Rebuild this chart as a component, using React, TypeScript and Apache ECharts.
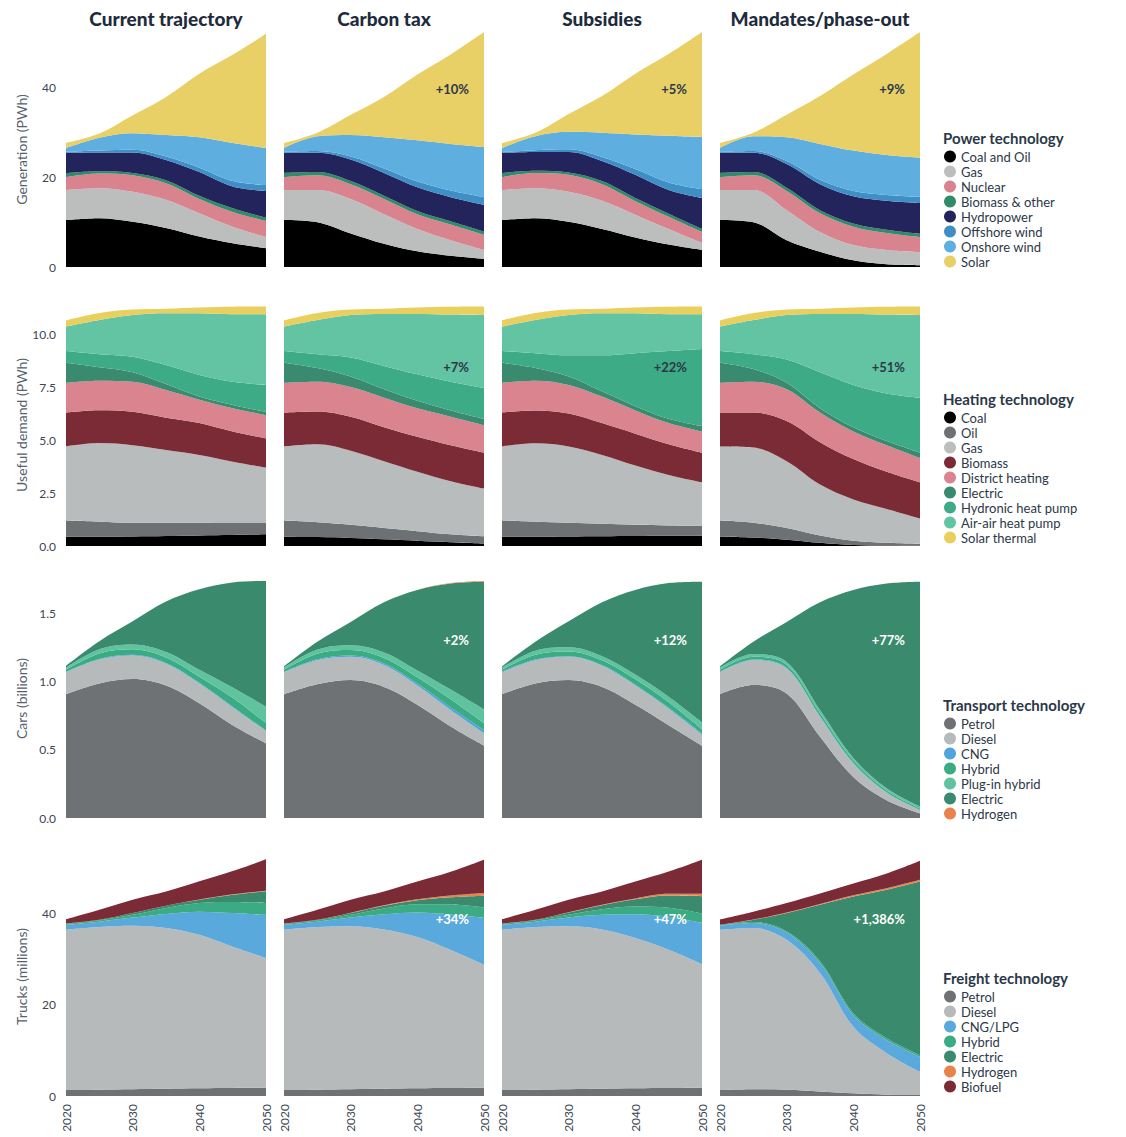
import React, { useEffect, useRef } from 'react';
import * as echarts from 'echarts';

const years = ['2020', '2025', '2030', '2035', '2040', '2045', '2050'];
const scenarios = ['Current trajectory', 'Carbon tax', 'Subsidies', 'Mandates/phase-out'];

// ---------- Power (PWh), per scenario [current, carbon tax, subsidies, mandates]
const powerNames = ['Coal and Oil', 'Gas', 'Nuclear', 'Biomass & other', 'Hydropower', 'Offshore wind', 'Onshore wind', 'Solar'];
const powerColors = ['#000000', '#bcbebe', '#d9838f', '#2f8b68', '#24245c', '#3f8fc6', '#5eaee0', '#e8cf66'];
const powerCoalOil = [
  [10.5, 10.9, 10.1, 8.7, 6.8, 5.3, 4.2],
  [10.5, 10.0, 7.5, 5.2, 3.5, 2.5, 1.8],
  [10.5, 10.9, 10.1, 8.5, 6.6, 5.0, 3.8],
  [10.5, 10.0, 6.0, 3.4, 1.5, 0.6, 0.4],
];
const powerGas = [
  [6.7, 6.7, 6.7, 6.3, 5.2, 3.7, 2.5],
  [6.7, 7.2, 7.7, 6.6, 5.0, 3.5, 2.0],
  [6.7, 6.7, 6.7, 6.3, 5.1, 3.5, 1.6],
  [6.7, 7.2, 6.7, 4.4, 3.4, 3.2, 2.9],
];
const powerNuclear = [
  [2.9, 3.3, 3.7, 3.7, 3.2, 3.3, 3.6],
  [2.9, 3.3, 3.3, 3.4, 3.3, 3.5, 3.4],
  [2.9, 3.4, 3.8, 3.7, 3.0, 2.7, 2.4],
  [2.9, 3.3, 4.3, 4.2, 4.1, 3.8, 3.4],
];
const powerBiomass = [
  [0.9, 0.5, 0.5, 0.7, 0.7, 0.8, 0.7],
  [0.9, 0.7, 0.7, 0.7, 0.7, 0.7, 0.7],
  [0.9, 0.5, 0.5, 0.7, 0.7, 0.7, 0.7],
  [0.9, 0.7, 0.7, 0.7, 0.7, 0.7, 0.7],
];
const powerHydro = [
  [4.5, 4.2, 4.6, 4.5, 5.3, 4.9, 6.0],
  [4.5, 4.3, 4.8, 5.1, 5.3, 5.4, 6.0],
  [4.5, 4.2, 4.6, 4.5, 5.2, 5.3, 6.9],
  [4.5, 4.3, 5.3, 5.8, 6.1, 6.5, 6.9],
];
const powerOffshore = [
  [0.2, 0.4, 0.6, 0.8, 1.0, 1.2, 1.3],
  [0.2, 0.4, 0.7, 1.0, 1.3, 1.5, 1.7],
  [0.2, 0.4, 0.6, 0.9, 1.3, 1.7, 2.0],
  [0.2, 0.4, 0.7, 1.0, 1.2, 1.3, 1.4],
];
const powerOnshore = [
  [0.9, 2.9, 3.7, 4.8, 6.8, 8.5, 8.3],
  [0.9, 3.3, 4.8, 7.0, 9.2, 10.4, 11.2],
  [0.9, 3.1, 3.9, 5.4, 7.7, 10.4, 11.6],
  [0.9, 3.3, 5.3, 8.0, 9.0, 8.9, 8.7],
];
const powerSolar = [
  [1.1, 0.9, 4.0, 8.5, 14.2, 19.7, 25.5],
  [1.1, 0.8, 4.5, 9.0, 14.7, 20.0, 25.7],
  [1.1, 0.8, 4.0, 8.2, 13.6, 18.3, 23.5],
  [1.1, 0.8, 5.0, 10.7, 17.0, 22.6, 28.1],
];
const powerChange = ['', '+10%', '+5%', '+9%'];

// ---------- Heating (PWh)
const heatNames = ['Coal', 'Oil', 'Gas', 'Biomass', 'District heating', 'Electric', 'Hydronic heat pump', 'Air-air heat pump', 'Solar thermal'];
const heatColors = ['#000000', '#6d7174', '#b9bcbc', '#7a2b36', '#d9848f', '#3a8a6f', '#3dab86', '#62c4a2', '#e8cf5e'];
const heatCoal = [
  [0.44, 0.44, 0.45, 0.47, 0.5, 0.52, 0.55],
  [0.44, 0.42, 0.38, 0.32, 0.25, 0.18, 0.12],
  [0.44, 0.44, 0.45, 0.46, 0.47, 0.48, 0.48],
  [0.44, 0.4, 0.3, 0.15, 0.05, 0.02, 0.01],
];
const heatOil = [
  [0.76, 0.71, 0.65, 0.63, 0.6, 0.56, 0.53],
  [0.76, 0.7, 0.62, 0.53, 0.45, 0.37, 0.33],
  [0.76, 0.71, 0.65, 0.59, 0.53, 0.49, 0.47],
  [0.76, 0.7, 0.55, 0.35, 0.2, 0.13, 0.09],
];
const heatGas = [
  [3.5, 3.71, 3.66, 3.43, 3.2, 2.9, 2.62],
  [3.5, 3.68, 3.5, 3.15, 2.8, 2.5, 2.25],
  [3.5, 3.7, 3.6, 3.25, 2.8, 2.38, 2.05],
  [3.5, 3.55, 3.15, 2.4, 1.95, 1.6, 1.2],
];
const heatBiomass = [
  [1.6, 1.55, 1.57, 1.52, 1.5, 1.42, 1.38],
  [1.6, 1.55, 1.6, 1.6, 1.65, 1.7, 1.7],
  [1.6, 1.55, 1.55, 1.5, 1.5, 1.45, 1.4],
  [1.6, 1.65, 1.9, 2.0, 1.9, 1.75, 1.7],
];
const heatDistrict = [
  [1.4, 1.39, 1.42, 1.31, 1.1, 1.1, 1.1],
  [1.4, 1.4, 1.4, 1.4, 1.35, 1.35, 1.3],
  [1.4, 1.4, 1.35, 1.25, 1.1, 1.0, 1.0],
  [1.4, 1.45, 1.5, 1.4, 1.3, 1.25, 1.15],
];
const heatElectric = [
  [0.95, 0.64, 0.45, 0.28, 0.15, 0.15, 0.15],
  [0.95, 0.65, 0.5, 0.4, 0.35, 0.3, 0.3],
  [0.95, 0.6, 0.4, 0.25, 0.2, 0.2, 0.25],
  [0.95, 0.6, 0.3, 0.2, 0.2, 0.2, 0.25],
];
const heatHydronic = [
  [0.55, 0.61, 0.73, 0.9, 1.02, 1.1, 1.27],
  [0.55, 0.65, 0.9, 1.1, 1.25, 1.35, 1.45],
  [0.55, 0.7, 1.0, 1.7, 2.5, 3.2, 3.65],
  [0.55, 0.7, 1.1, 1.7, 2.0, 2.25, 2.6],
];
const heatAirAir = [
  [1.15, 1.61, 1.97, 2.44, 2.91, 3.19, 3.34],
  [1.15, 1.61, 2.0, 2.45, 2.85, 3.17, 3.45],
  [1.15, 1.56, 1.9, 1.98, 1.88, 1.74, 1.64],
  [1.15, 1.61, 2.1, 2.75, 3.35, 3.72, 3.9],
];
const heatSolar = [
  [0.3, 0.34, 0.26, 0.22, 0.28, 0.35, 0.36],
  [0.3, 0.34, 0.26, 0.25, 0.31, 0.37, 0.4],
  [0.3, 0.34, 0.26, 0.22, 0.28, 0.35, 0.36],
  [0.3, 0.34, 0.26, 0.25, 0.31, 0.37, 0.4],
];
const heatChange = ['', '+7%', '+22%', '+51%'];

// ---------- Cars (billions)
const carNames = ['Petrol', 'Diesel', 'CNG', 'Hybrid', 'Plug-in hybrid', 'Electric', 'Hydrogen'];
const carColors = ['#6e7275', '#b7baba', '#4fa3de', '#3aab82', '#5fc3a0', '#3a8a6e', '#e8844b'];
const carPetrol = [
  [0.907, 0.985, 1.017, 0.97, 0.84, 0.68, 0.546],
  [0.907, 0.98, 1.01, 0.96, 0.83, 0.67, 0.53],
  [0.907, 0.985, 1.01, 0.96, 0.83, 0.68, 0.53],
  [0.907, 0.973, 0.912, 0.595, 0.3, 0.13, 0.034],
];
const carDiesel = [
  [0.159, 0.175, 0.173, 0.16, 0.145, 0.13, 0.09],
  [0.159, 0.175, 0.17, 0.16, 0.14, 0.12, 0.09],
  [0.159, 0.17, 0.17, 0.155, 0.14, 0.12, 0.08],
  [0.159, 0.183, 0.183, 0.145, 0.1, 0.055, 0.024],
];
const carCNG = [
  [0.005, 0.005, 0.005, 0.005, 0.005, 0.005, 0.005],
  [0.005, 0.008, 0.01, 0.012, 0.015, 0.02, 0.025],
  [0.005, 0.005, 0.005, 0.005, 0.006, 0.008, 0.01],
  [0.005, 0.005, 0.005, 0.005, 0.004, 0.003, 0.002],
];
const carHybrid = [
  [0.015, 0.04, 0.04, 0.04, 0.045, 0.065, 0.055],
  [0.015, 0.04, 0.04, 0.04, 0.045, 0.06, 0.05],
  [0.015, 0.035, 0.035, 0.035, 0.04, 0.04, 0.03],
  [0.015, 0.02, 0.022, 0.022, 0.018, 0.014, 0.011],
];
const carPlugin = [
  [0.015, 0.03, 0.035, 0.04, 0.05, 0.075, 0.12],
  [0.015, 0.03, 0.035, 0.04, 0.05, 0.07, 0.1],
  [0.015, 0.03, 0.03, 0.03, 0.035, 0.04, 0.05],
  [0.015, 0.02, 0.021, 0.023, 0.018, 0.015, 0.012],
];
const carElectric = [
  [0.014, 0.06, 0.17, 0.37, 0.59, 0.77, 0.92],
  [0.009, 0.057, 0.171, 0.368, 0.59, 0.777, 0.935],
  [0.009, 0.065, 0.19, 0.395, 0.619, 0.832, 1.03],
  [0.009, 0.089, 0.293, 0.79, 1.23, 1.5, 1.647],
];
const carHydrogen = [
  [0, 0, 0, 0, 0, 0, 0],
  [0, 0, 0, 0, 0, 0.003, 0.005],
  [0, 0, 0, 0, 0, 0, 0],
  [0, 0, 0, 0, 0, 0, 0],
];
const carChange = ['', '+2%', '+12%', '+77%'];

// ---------- Trucks (millions)
const truckNames = ['Petrol', 'Diesel', 'CNG/LPG', 'Hybrid', 'Electric', 'Hydrogen', 'Biofuel'];
const truckColors = ['#6e7275', '#b7baba', '#5aa9dd', '#3aab82', '#3a8a6e', '#e8844b', '#7a2b36'];
const truckPetrol = [
  [1.3, 1.4, 1.5, 1.6, 1.7, 1.75, 1.8],
  [1.3, 1.4, 1.5, 1.6, 1.7, 1.75, 1.8],
  [1.3, 1.4, 1.5, 1.6, 1.7, 1.75, 1.8],
  [1.3, 1.5, 1.4, 1.0, 0.6, 0.3, 0.2],
];
const truckDiesel = [
  [35.2, 35.7, 35.9, 35.3, 33.7, 31.05, 28.5],
  [35.2, 35.7, 35.8, 35.0, 33.2, 30.3, 27.0],
  [35.2, 35.7, 35.8, 35.0, 33.0, 30.4, 27.2],
  [35.2, 35.4, 32.9, 26.0, 14.6, 9.1, 5.1],
];
const truckCNG = [
  [1.1, 1.2, 1.8, 3.1, 5.1, 7.4, 9.5],
  [1.1, 1.2, 1.9, 3.3, 5.4, 7.8, 10.3],
  [1.1, 1.2, 1.9, 3.2, 5.2, 7.2, 9.0],
  [0.9, 1.1, 1.6, 2.2, 2.6, 2.9, 3.3],
];
const truckHybrid = [
  [0.2, 0.3, 0.6, 1.3, 1.9, 2.4, 2.6],
  [0.2, 0.3, 0.6, 1.3, 1.8, 2.2, 2.3],
  [0.2, 0.3, 0.6, 1.2, 1.7, 2.0, 2.1],
  [0.1, 0.2, 0.3, 0.4, 0.4, 0.4, 0.4],
];
const truckElectric = [
  [0.1, 0.1, 0.4, 0.5, 0.7, 1.6, 2.6],
  [0.1, 0.1, 0.4, 0.6, 0.9, 1.6, 2.6],
  [0.1, 0.1, 0.5, 0.9, 1.6, 2.7, 3.8],
  [0.1, 0.5, 4.0, 12.4, 25.6, 32.6, 38.1],
];
const truckHydrogen = [
  [0, 0, 0, 0, 0.05, 0.1, 0.1],
  [0, 0, 0.05, 0.1, 0.2, 0.4, 0.6],
  [0, 0, 0.05, 0.1, 0.2, 0.35, 0.5],
  [0, 0.05, 0.1, 0.2, 0.3, 0.35, 0.4],
];
const truckBiofuel = [
  [0.9, 2.2, 2.9, 3.1, 4.0, 5.1, 6.9],
  [0.9, 2.2, 2.85, 3.0, 3.9, 5.2, 7.3],
  [0.9, 2.2, 2.75, 2.9, 3.7, 4.9, 7.5],
  [1.2, 1.75, 2.1, 2.3, 2.6, 3.25, 4.2],
];
const truckChange = ['', '+34%', '+47%', '+1,386%'];

// ---------- Axis ticks
const powerTicks = [0, 20, 40];
const heatTicks = [0, 2.5, 5, 7.5, 10];
const carTicks = [0, 0.5, 1, 1.5];
const truckTicks = [0, 20, 40];

const FONT = 'Lato, "Open Sans", sans-serif';
const TEXT = '#2c3948';

const rows = [
  { key: 'power', name: 'Generation (PWh)', legend: 'Power technology', names: powerNames, colors: powerColors,
    data: [powerCoalOil, powerGas, powerNuclear, powerBiomass, powerHydro, powerOffshore, powerOnshore, powerSolar],
    change: powerChange, ticks: powerTicks, interval: 20, max: 52.5, dec: 0, top: 32, height: 235, changeColor: '#2c3948' },
  { key: 'heat', name: 'Useful demand (PWh)', legend: 'Heating technology', names: heatNames, colors: heatColors,
    data: [heatCoal, heatOil, heatGas, heatBiomass, heatDistrict, heatElectric, heatHydronic, heatAirAir, heatSolar],
    change: heatChange, ticks: heatTicks, interval: 2.5, max: 11.42, dec: 1, top: 304, height: 242, changeColor: '#2c3948' },
  { key: 'car', name: 'Cars (billions)', legend: 'Transport technology', names: carNames, colors: carColors,
    data: [carPetrol, carDiesel, carCNG, carHybrid, carPlugin, carElectric, carHydrogen],
    change: carChange, ticks: carTicks, interval: 0.5, max: 1.75, dec: 1, top: 579, height: 239, changeColor: '#ffffff' },
  { key: 'truck', name: 'Trucks (millions)', legend: 'Freight technology', names: truckNames, colors: truckColors,
    data: [truckPetrol, truckDiesel, truckCNG, truckHybrid, truckElectric, truckHydrogen, truckBiofuel],
    change: truckChange, ticks: truckTicks, interval: 20, max: 52.5, dec: 0, top: 857, height: 239, changeColor: '#ffffff' },
];

const colLefts = [66, 284, 502, 720];
const colWidth = 200;
const legendTitleY = [138, 399, 705, 978];

function buildOption() {
  const grid: any[] = [];
  const xAxis: any[] = [];
  const yAxis: any[] = [];
  const series: any[] = [];
  const legend: any[] = [];
  const graphic: any[] = [];

  rows.forEach((row, r) => {
    colLefts.forEach((left, c) => {
      const idx = grid.length;
      grid.push({ left, top: row.top, width: colWidth, height: row.height, containLabel: false });
      xAxis.push({
        type: 'category', gridIndex: idx, data: years, boundaryGap: false,
        axisLine: { show: false }, axisTick: { show: false }, splitLine: { show: false },
        axisLabel: {
          show: r === rows.length - 1, interval: 1, rotate: 90, margin: 8,
          color: '#3b4654', fontSize: 12, fontFamily: FONT,
        },
      });
      yAxis.push({
        type: 'value', gridIndex: idx, min: 0, max: row.max, interval: row.interval,
        show: c === 0,
        axisLine: { show: false }, axisTick: { show: false }, splitLine: { show: false },
        axisLabel: {
          margin: 10, color: '#3b4654', fontSize: 12, fontFamily: FONT,
          formatter: (v: number) => (row.ticks.some((t) => Math.abs(t - v) < 1e-6) ? v.toFixed(row.dec) : ''),
        },
        name: c === 0 ? row.name : '', nameLocation: 'middle', nameGap: 38,
        nameTextStyle: { color: '#56616d', fontSize: 14, fontFamily: FONT },
      });
      row.names.forEach((nm, s) => {
        series.push({
          type: 'line', name: nm, xAxisIndex: idx, yAxisIndex: idx,
          stack: row.key + c, data: row.data[s][c], smooth: 0.35, symbol: 'none',
          lineStyle: { width: 0 }, itemStyle: { color: row.colors[s] },
          areaStyle: { color: row.colors[s], opacity: 1 }, silent: true,
        });
      });
      if (row.change[c]) {
        graphic.push({
          type: 'text', x: left + 185, y: [89, 367, 640, 919][r], z: 100,
          style: { text: row.change[c], fill: row.changeColor, font: `bold 13px ${FONT}`, textAlign: 'right', textVerticalAlign: 'middle' },
        });
      }
    });
    legend.push({
      data: row.names, orient: 'vertical', left: 944, top: legendTitleY[r] + 12, icon: 'circle',
      itemWidth: 12, itemHeight: 12, itemGap: 2, selectedMode: false, padding: 0,
      textStyle: { color: TEXT, fontSize: 13, fontFamily: FONT, lineHeight: 12, padding: [0, 0, 0, 0] },
    });
    graphic.push({
      type: 'text', x: 943, y: legendTitleY[r], z: 100,
      style: { text: row.legend, fill: '#2a3848', font: `bold 15px ${FONT}`, textVerticalAlign: 'middle' },
    });
  });

  scenarios.forEach((s, c) => {
    graphic.push({
      type: 'text', x: colLefts[c] + colWidth / 2, y: 18, z: 100,
      style: { text: s, fill: '#1e2b3c', font: `900 19px ${FONT}`, textAlign: 'center', textVerticalAlign: 'middle' },
    });
  });

  return { animation: false, backgroundColor: '#ffffff', grid, xAxis, yAxis, series, legend, graphic };
}

export default function App() {
  const ref = useRef<HTMLDivElement>(null);
  useEffect(() => {
    if (!ref.current) return;
    const chart = echarts.init(ref.current, undefined, { renderer: 'svg' });
    chart.setOption(buildOption() as any);
    return () => chart.dispose();
  }, []);
  return <div ref={ref} style={{ position: 'absolute', left: 0, top: 0, width: 1126, height: 1137 }} />;
}
